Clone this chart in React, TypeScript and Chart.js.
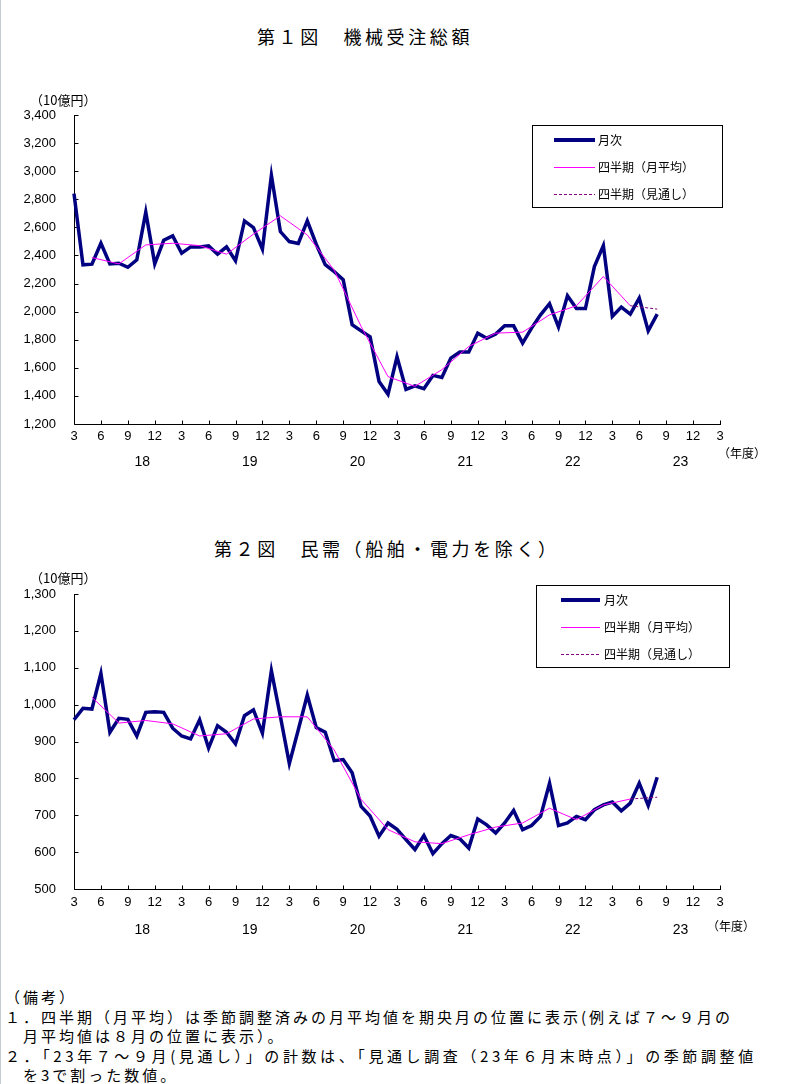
import React, { useEffect, useRef } from "react";
import { Chart, registerables } from "chart.js";

Chart.register(...registerables);

// ---------------- data ----------------
const START_MONTH = 3; // first category: March 2018
const MONTH_COUNT = 73; // Mar 2018 .. Mar 2024
const YEAR_LABELS = ["18", "19", "20", "21", "22", "23"];
const SERIES_LABELS = ["月次", "四半期（月平均）", "四半期（見通し）"];
const UNIT_LABEL = "（10億円）";
const FY_LABEL = "（年度）";

// 第1図 機械受注総額 (monthly, Mar 2018 .. Aug 2023)
const TOTAL_MONTHLY = [
  2840, 2333, 2338, 2487, 2340, 2345, 2316, 2369, 2708, 2340,
  2508, 2539, 2416, 2461, 2461, 2468, 2409, 2461, 2362, 2646,
  2599, 2445, 2971, 2570, 2499, 2485, 2646, 2480, 2335, 2285,
  2228, 1907, 1863, 1820, 1503, 1412, 1679, 1447, 1472, 1451,
  1546, 1532, 1669, 1712, 1712, 1847, 1811, 1840, 1899, 1899,
  1776, 1883, 1977, 2056, 1890, 2113, 2022, 2022, 2321, 2470,
  1966, 2032, 1982, 2096, 1863, 1982,
];
// quarterly monthly-average, Apr-Jun 2018 .. Apr-Jun 2023 (plotted at mid month)
const TOTAL_QUARTERLY = [
  2385, 2340, 2475, 2487, 2470, 2409, 2552, 2682, 2546, 2295,
  1895, 1537, 1468, 1587, 1752, 1847, 1854, 1977, 2042, 2250,
  2042,
];
const TOTAL_OUTLOOK = 2018; // Jul-Sep 2023 outlook

// 第2図 民需（船舶・電力を除く）
const PRIVATE_MONTHLY = [
  959, 990, 988, 1085, 925, 963, 960, 915, 979, 981,
  979, 936, 915, 907, 959, 882, 943, 925, 894, 970,
  986, 923, 1092, 968, 840, 932, 1026, 938, 925, 848,
  851, 815, 724, 698, 643, 679, 662, 634, 607, 645,
  596, 623, 645, 636, 611, 690, 674, 652, 679, 713,
  661, 672, 697, 787, 672, 679, 697, 688, 715, 728,
  736, 712, 733, 787, 726, 803,
];
const PRIVATE_QUARTERLY = [
  1020, 950, 957, 948, 915, 921, 961, 967, 967, 877,
  743, 661, 628, 623, 647, 668, 679, 719, 688, 728,
  744,
];
const PRIVATE_OUTLOOK = 749;

const NOTES = [
  "（備考）",
  "１．四半期（月平均）は季節調整済みの月平均値を期央月の位置に表示(例えば７～９月の",
  "　月平均値は８月の位置に表示）。",
  "２．「23年７～９月(見通し）」の計数は、「見通し調査（23年６月末時点）」の季節調整値",
  "　を3で割った数値。",
];
const NOTE_SPACING = [3, 3, 3, 3.6, 3];

// ---------------- helpers ----------------
const CJK = '"Noto Sans CJK JP", "Noto Sans CJK SC", sans-serif';
const NUM = '"Liberation Sans", Arial, sans-serif';

const MONTH_LABELS = Array.from({ length: MONTH_COUNT }, (_, i) =>
  String(((START_MONTH - 1 + i) % 12) + 1)
);

function buildDatasets(monthly: number[], quarterly: number[], outlook: number) {
  const n = MONTH_LABELS.length;
  const m = MONTH_LABELS.map((_, i) => (i < monthly.length ? monthly[i] : null));
  const q: (number | null)[] = new Array(n).fill(null);
  quarterly.forEach((v, k) => {
    q[2 + 3 * k] = v;
  });
  const lastQ = 2 + 3 * (quarterly.length - 1);
  const o: (number | null)[] = new Array(n).fill(null);
  o[lastQ] = quarterly[quarterly.length - 1];
  o[lastQ + 3] = outlook;
  return [
    {
      label: SERIES_LABELS[0],
      data: m,
      borderColor: "#000080",
      backgroundColor: "#000080",
      borderWidth: 3.5,
      order: 2,
    },
    {
      label: SERIES_LABELS[1],
      data: q,
      borderColor: "#ff00ff",
      backgroundColor: "#ff00ff",
      borderWidth: 1,
      spanGaps: true,
      order: 1,
    },
    {
      label: SERIES_LABELS[2],
      data: o,
      borderColor: "#800080",
      backgroundColor: "#800080",
      borderWidth: 1,
      borderDash: [3, 2],
      spanGaps: true,
      order: 0,
    },
  ];
}

const decorPlugin = {
  id: "decor",
  beforeDatasetsDraw(chart: any, _a: any, opts: any) {
    const { ctx, chartArea: a, scales } = chart;
    const x = scales.x;
    const y = scales.y;
    ctx.save();
    ctx.strokeStyle = "#000";
    ctx.lineWidth = 1;
    ctx.beginPath();
    const left = Math.round(a.left) + 0.5;
    const bottom = Math.round(a.bottom) + 0.5;
    ctx.moveTo(left, Math.round(a.top));
    ctx.lineTo(left, bottom);
    ctx.lineTo(Math.round(a.right) + 1, bottom);
    y.ticks.forEach((t: any) => {
      const py = Math.round(y.getPixelForValue(t.value)) + 0.5;
      ctx.moveTo(left, py);
      ctx.lineTo(left + 4, py);
    });
    for (let i = 0; i < MONTH_LABELS.length; i += 3) {
      const px = Math.round(x.getPixelForValue(i)) + 0.5;
      ctx.moveTo(px, bottom);
      ctx.lineTo(px, bottom - 4);
    }
    ctx.stroke();

    // unit label
    ctx.fillStyle = "#000";
    ctx.font = `13px ${CJK}`;
    ctx.textBaseline = "middle";
    ctx.textAlign = "left";
    ctx.fillText(UNIT_LABEL, opts.unitX, opts.unitY);

    // fiscal year labels
    ctx.font = `14px ${NUM}`;
    ctx.textAlign = "center";
    YEAR_LABELS.forEach((lab, k) => {
      const px = x.getPixelForValue(7.6 + 12 * k);
      ctx.fillText(lab, px, a.bottom + opts.yearDy);
    });
    ctx.font = `12px ${CJK}`;
    ctx.fillText(FY_LABEL, a.right + opts.fyDx, a.bottom + opts.fyDy);
    ctx.restore();
  },
  afterDraw(chart: any, _a: any, opts: any) {
    const { ctx } = chart;
    const L = opts.legend;
    ctx.save();
    ctx.setLineDash([]);
    ctx.fillStyle = "#fff";
    ctx.fillRect(L.x, L.y, L.w, L.h);
    ctx.strokeStyle = "#000";
    ctx.lineWidth = 1;
    ctx.strokeRect(L.x + 0.5, L.y + 0.5, L.w, L.h);
    chart.data.datasets.forEach((ds: any, i: number) => {
      const ry = L.y + L.rows[i];
      const lw = Math.max(1, Math.round(ds.borderWidth));
      const x1 = L.x + L.lineX1;
      const x2 = L.x + L.lineX2;
      ctx.fillStyle = ds.borderColor;
      const dash = ds.borderDash;
      if (dash && dash.length) {
        for (let px = x1; px < x2; px += dash[0] + dash[1]) {
          ctx.fillRect(px, ry - Math.floor(lw / 2), Math.min(dash[0], x2 - px), lw);
        }
      } else {
        ctx.fillRect(x1, ry - Math.floor(lw / 2), x2 - x1, lw);
      }
      ctx.fillStyle = "#000";
      ctx.font = `12px ${CJK}`;
      ctx.textAlign = "left";
      ctx.textBaseline = "middle";
      ctx.fillText(ds.label, L.x + L.textX, ry + 0.5);
    });
    ctx.restore();
  },
};

type ChartCfg = {
  monthly: number[];
  quarterly: number[];
  outlook: number;
  yMin: number;
  yMax: number;
  yStep: number;
  width: number;
  height: number;
  padTop: number;
  xHeight: number;
  xPad: number;
  decor: any;
};

function MachineChart(props: ChartCfg) {
  const ref = useRef<HTMLCanvasElement | null>(null);
  useEffect(() => {
    if (!ref.current) return;
    const chart = new Chart(ref.current, {
      type: "line",
      data: {
        labels: MONTH_LABELS,
        datasets: buildDatasets(props.monthly, props.quarterly, props.outlook) as any,
      },
      options: {
        responsive: false,
        animation: false,
        devicePixelRatio: 1,
        layout: { padding: { top: props.padTop, right: props.width - 720, left: 0, bottom: 0 } },
        elements: {
          point: { radius: 0, hoverRadius: 0 },
          line: { tension: 0, borderJoinStyle: "miter" as any },
        },
        datasets: { line: { clip: false as any } },
        plugins: {
          legend: { display: false },
          tooltip: { enabled: false },
          decor: props.decor,
        } as any,
        scales: {
          x: {
            type: "category",
            offset: false,
            grid: { display: false, drawTicks: false },
            border: { display: false },
            ticks: {
              autoSkip: false,
              maxRotation: 0,
              minRotation: 0,
              padding: props.xPad,
              color: "#000",
              font: { family: NUM, size: 13 },
              callback: (_v: any, i: number) => (i % 3 === 0 ? MONTH_LABELS[i] : ""),
            },
            afterFit: (s: any) => {
              s.height = props.xHeight;
            },
          },
          y: {
            min: props.yMin,
            max: props.yMax,
            grid: { display: false, drawTicks: false },
            border: { display: false },
            ticks: {
              stepSize: props.yStep,
              padding: 18,
              color: "#000",
              font: { family: NUM, size: 13 },
              callback: (v: any) => Number(v).toLocaleString("en-US"),
            },
            afterFit: (s: any) => {
              s.width = 74;
            },
          },
        },
      },
      plugins: [decorPlugin as any],
    });
    return () => chart.destroy();
  }, []);
  return (
    <canvas
      ref={ref}
      width={props.width}
      height={props.height}
      style={{ display: "block", width: props.width, height: props.height }}
    />
  );
}

const titleStyle: React.CSSProperties = {
  position: "absolute",
  fontFamily: CJK,
  fontSize: 18,
  letterSpacing: 3.6,
  lineHeight: "22px",
  whiteSpace: "pre",
  color: "#000",
};

export default function App() {
  return (
    <div
      style={{
        position: "absolute",
        left: 0,
        top: 0,
        width: 789,
        height: 1084,
        background: "#fff",
        overflow: "hidden",
      }}
    >
      <div style={{ position: "absolute", left: 0, top: 0, width: 1, height: 1084, background: "#c4ccd4" }} />
      <div style={{ ...titleStyle, left: 257, top: 25 }}>第１図　機械受注総額</div>
      <div style={{ position: "absolute", left: 0, top: 60 }}>
        <MachineChart
          monthly={TOTAL_MONTHLY}
          quarterly={TOTAL_QUARTERLY}
          outlook={TOTAL_OUTLOOK}
          yMin={1200}
          yMax={3400}
          yStep={200}
          width={789}
          height={420}
          padTop={55}
          xHeight={56}
          xPad={5}
          decor={{
            unitX: 30,
            unitY: 40,
            yearDy: 38,
            fyDx: 22,
            fyDy: 29,
            legend: { x: 532, y: 65, w: 190, h: 82, rows: [15, 42, 69], lineX1: 22, lineX2: 63, textX: 66 },
          }}
        />
      </div>
      <div style={{ ...titleStyle, left: 214, top: 537 }}>第２図　民需（船舶・電力を除く）</div>
      <div style={{ position: "absolute", left: 0, top: 540 }}>
        <MachineChart
          monthly={PRIVATE_MONTHLY}
          quarterly={PRIVATE_QUARTERLY}
          outlook={PRIVATE_OUTLOOK}
          yMin={500}
          yMax={1300}
          yStep={100}
          width={789}
          height={410}
          padTop={54}
          xHeight={61}
          xPad={6}
          decor={{
            unitX: 30,
            unitY: 38,
            yearDy: 41,
            fyDx: 11,
            fyDy: 37,
            legend: { x: 536, y: 45, w: 193, h: 82, rows: [15, 42, 69], lineX1: 25, lineX2: 64, textX: 68 },
          }}
        />
      </div>
      <div
        style={{
          position: "absolute",
          left: 5,
          top: 987,
          fontFamily: CJK,
          fontSize: 15,
          lineHeight: "19.5px",
          whiteSpace: "pre",
          color: "#000",
        }}
      >
        {NOTES.map((t, i) => (
          <div key={i} style={{ letterSpacing: NOTE_SPACING[i] }}>
            {t}
          </div>
        ))}
      </div>
    </div>
  );
}
